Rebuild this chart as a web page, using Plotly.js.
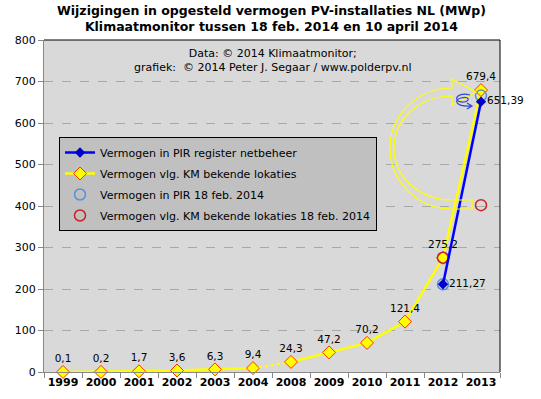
<!DOCTYPE html>
<html><head><meta charset="utf-8">
<script src="https://cdn.plot.ly/plotly-3.0.1.min.js"></script>
<style>html,body{margin:0;padding:0;background:#fff}</style>
</head><body><div id="chart" style="width:541px;height:399px"></div>
<script>
// ---- data ----
const years = ['1999','2000','2001','2002','2003','2004','2008','2009','2010','2011','2012','2013'];
const kmValues = [0.1, 0.2, 1.7, 3.6, 6.3, 9.4, 24.3, 47.2, 70.2, 121.4, 275.2, 679.4];
const pirYears = ['2012','2013'];
const pirValues = [211.27, 651.39];
const pirFebYears = ['2012','2013'];
const pirFebValues = [211.27, 666];
const kmFebYears = ['2012','2013'];
const kmFebValues = [275.2, 402];
const yTickVals = [0,100,200,300,400,500,600,700,800];

const seriesNames = {
  pir: 'Vermogen in PIR register netbeheer',
  km: 'Vermogen vlg. KM bekende lokaties',
  pirFeb: 'Vermogen in PIR 18 feb. 2014',
  kmFeb: 'Vermogen vlg. KM bekende lokaties 18 feb. 2014'
};

const nl = v => String(v).replace('.', ',');
const FONT = 'DejaVu Sans, sans-serif';

const yellowLine = {color:'#ffff00', width:2.5};
const yellowMarker = {symbol:'diamond', size:10, color:'#ffff00', line:{color:'#ff3300', width:1}};
const labelFont = {family:FONT, size:10.5, color:'#000'};

const traces = [
  { // segment 1999-2004 (legend entry)
    x: years.slice(0,6), y: kmValues.slice(0,6), type:'scatter', mode:'lines+markers+text',
    name: seriesNames.km, legendgroup:'km', legendrank:2,
    line: yellowLine, marker: yellowMarker,
    text: kmValues.slice(0,6).map(nl), textposition:'top center',
    textfont: labelFont, cliponaxis:false
  },
  { // dotted segment 2004-2008
    x: years.slice(5,7), y: kmValues.slice(5,7), type:'scatter', mode:'lines',
    showlegend:false, legendgroup:'km', line:{color:'#ffff00', width:2.5, dash:'dot'}, hoverinfo:'skip'
  },
  { // segment 2008-2013
    x: years.slice(6), y: kmValues.slice(6), type:'scatter', mode:'lines+markers+text',
    showlegend:false, legendgroup:'km', line: yellowLine, marker: yellowMarker,
    text: kmValues.slice(6).map(nl), textposition:'top center',
    textfont: labelFont, cliponaxis:false
  },
  {
    x: kmFebYears, y: kmFebValues, type:'scatter', mode:'markers',
    name: seriesNames.kmFeb, legendgroup:'kmFeb', legendrank:4,
    marker:{symbol:'circle-open', size:11, color:'#cc2222', line:{width:1.5}}
  },
  {
    x: pirFebYears, y: pirFebValues, type:'scatter', mode:'markers',
    name: seriesNames.pirFeb, legendgroup:'pirFeb', legendrank:3,
    marker:{symbol:'circle-open', size:11, color:'#5b8fd6', line:{width:1.5}}
  },
  {
    x: pirYears, y: pirValues, type:'scatter', mode:'lines+markers+text',
    name: seriesNames.pir, legendgroup:'pir', legendrank:1,
    line:{color:'#0000ff', width:2.5},
    marker:{symbol:'diamond', size:8, color:'#0000cc'},
    text: pirValues.map(nl), textposition:'middle right',
    textfont: labelFont, cliponaxis:false
  }
];

// decorative hand-drawn arrows (pixel -> paper)
const L=44, R=500, T=40, B=372;
const px = x => ((x-L)/(R-L)).toFixed(4);
const py = y => ((B-y)/(B-T)).toFixed(4);
const P = (x,y) => px(x)+','+py(y);
const k = 0.5523;
const bigArrow = 'M'+P(476,92)+' L'+P(452,79)+' L'+P(452,88)+
  ' C'+P(452-k*62,88)+' '+P(390,148-k*60)+' '+P(390,148)+
  ' C'+P(390,148+k*61)+' '+P(452-k*62,209)+' '+P(452,209)+
  ' L'+P(472,209)+' L'+P(472,200)+' L'+P(452,200)+
  ' C'+P(452-k*59,200)+' '+P(394,148+k*52)+' '+P(394,148)+
  ' C'+P(394,148-k*52)+' '+P(452-k*59,96)+' '+P(452,96)+
  ' L'+P(452,105)+' Z';
const curl = 'M'+P(470,95)+' C'+P(455,91)+' '+P(452,103)+' '+P(464,102)+
  ' C'+P(471,101)+' '+P(469,96)+' '+P(461,98)+
  ' C'+P(453,100)+' '+P(456,107)+' '+P(471,106)+
  ' M'+P(467,103)+' L'+P(472,106)+' L'+P(467,109);

const layout = {
  width:541, height:399,
  margin:{l:L, r:541-R, t:T, b:399-B, pad:0},
  paper_bgcolor:'#ffffff', plot_bgcolor:'#d9d9d9',
  font:{family:FONT, size:11, color:'#000'},
  showlegend:true,
  legend:{
    x:(59-L)/(R-L), y:(B-137)/(B-T), xanchor:'left', yanchor:'top',
    bgcolor:'#c0c0c0', bordercolor:'#000', borderwidth:1,
    font:{family:FONT, size:11, color:'#000'},
    traceorder:'grouped', tracegroupgap:2
  },
  xaxis:{
    type:'category', categoryorder:'array', categoryarray: years,
    range:[-0.5, years.length-0.5], tickson:'boundaries', tickangle:0,
    ticks:'outside', ticklen:5, tickcolor:'#888',
    showline:true, linecolor:'#888', linewidth:1, showgrid:false, zeroline:false,
    tickfont:{family:FONT, size:11, color:'#000', weight:'bold'},
    automargin:false, fixedrange:true
  },
  yaxis:{
    range:[0,800], tickvals:yTickVals, ticktext:yTickVals.map(String),
    ticks:'outside', ticklen:5, tickcolor:'#888',
    showline:true, linecolor:'#888', linewidth:1,
    showgrid:true, gridcolor:'#a8a8a8', griddash:'dash', gridwidth:1, zeroline:false,
    tickfont:{family:FONT, size:11, color:'#000'},
    automargin:false, fixedrange:true
  },
  shapes:[
    {type:'line', xref:'paper', yref:'paper', x0:0, x1:1, y0:1, y1:1, line:{color:'#000', width:1}},
    {type:'line', xref:'paper', yref:'paper', x0:1, x1:1, y0:0, y1:1, line:{color:'#000', width:1}},
    {type:'path', xref:'paper', yref:'paper', path:bigArrow, line:{color:'#ffff00', width:1.2}, fillcolor:'rgba(0,0,0,0)'},
    {type:'path', xref:'paper', yref:'paper', path:curl, line:{color:'#3344dd', width:1.2}, fillcolor:'rgba(0,0,0,0)'}
  ],
  annotations:[
    {xref:'paper', yref:'paper', x:(271-L)/(R-L), y:(B-1)/(B-T), xanchor:'center', yanchor:'top', showarrow:false,
     text:'<b>Wijzigingen in opgesteld vermogen PV-installaties NL (MWp)<br>Klimaatmonitor tussen 18 feb. 2014 en 10 april 2014</b>',
     font:{family:FONT, size:12.5, color:'#000'}, align:'center'},
    {xref:'paper', yref:'paper', x:0.5, y:(B-45)/(B-T), xanchor:'center', yanchor:'top', showarrow:false,
     text:'Data: © 2014 Klimaatmonitor;<br>grafiek:  © 2014 Peter J. Segaar / www.polderpv.nl',
     font:{family:FONT, size:11, color:'#000'}, align:'center'}
  ]
};

Plotly.newPlot('chart', traces, layout, {displayModeBar:false, staticPlot:true});
</script></body></html>
